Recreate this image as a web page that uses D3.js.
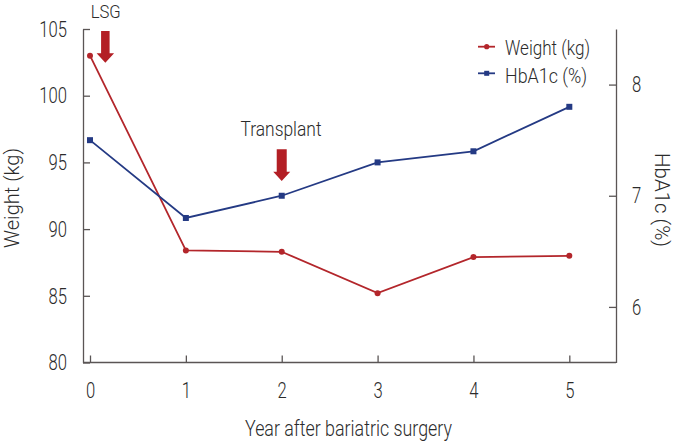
<!DOCTYPE html>
<html><head><meta charset="utf-8">
<script src="https://cdn.jsdelivr.net/npm/d3@7"></script>
<style>
body{margin:0;background:#fff;}
text{font-family:Roboto,sans-serif;font-weight:300;fill:#2b2b2b;}
</style></head>
<body><svg id="c" width="681" height="442"></svg>
<script>
const years = [0,1,2,3,4,5];
const weight = [103.0, 88.4, 88.3, 85.2, 87.9, 88.0];
const hba1c = [7.5, 6.8, 7.0, 7.3, 7.4, 7.8];
const weightTicks = [80,85,90,95,100,105];
const hbaTicks = [6,7,8];
const red = "#b3262b", blue = "#243a84", axc = "#5a5555";

const svg = d3.select("#c");
const L=83, R=616, T=29, B=362.5;
const x = d3.scaleLinear().domain([-0.073,5.487]).range([L,R]);
const yL = d3.scaleLinear().domain([80,105]).range([B,T]);
const yR = d3.scaleLinear().domain([5.5,8.5]).range([B,T]);

function condense(sel, s){
  sel.each(function(){
    const t = d3.select(this);
    const tx = +t.attr("x") || 0;
    t.attr("x",0).attr("transform",`translate(${tx},0) scale(${s},1)`);
  });
}
function style(g){
  g.selectAll("path,line").attr("stroke",axc).attr("stroke-width",1.3);
  g.selectAll("text").style("font-size","22.5px").attr("fill","#2b2b2b").call(condense,0.74);
}
svg.append("g").attr("transform",`translate(${L},0)`)
  .call(d3.axisLeft(yL).tickValues(weightTicks).tickFormat(d3.format("d")).tickSize(-7).tickSizeOuter(0).tickPadding(16))
  .call(style);
svg.append("g").attr("transform",`translate(${R},0)`)
  .call(d3.axisRight(yR).tickValues(hbaTicks).tickFormat(d3.format("d")).tickSize(-7).tickSizeOuter(0).tickPadding(16))
  .call(style);
const xa = svg.append("g").attr("transform",`translate(0,${B})`)
  .call(d3.axisBottom(x).tickValues(years).tickFormat(d3.format("d")).tickSize(-7).tickSizeOuter(0).tickPadding(19.5))
  .call(style);
xa.select(".domain").attr("d",`M${L},0H${R}`);

// lines
const lw = d3.line().x((d,i)=>x(years[i])).y(d=>yL(d));
const lh = d3.line().x((d,i)=>x(years[i])).y(d=>yR(d));
svg.append("path").attr("d",lw(weight)).attr("fill","none").attr("stroke",red).attr("stroke-width",1.8);
svg.append("path").attr("d",lh(hba1c)).attr("fill","none").attr("stroke",blue).attr("stroke-width",1.8);
svg.selectAll(".pw").data(weight).enter().append("circle")
  .attr("cx",(d,i)=>x(years[i])).attr("cy",d=>yL(d)).attr("r",3).attr("fill",red);
svg.selectAll(".ph").data(hba1c).enter().append("rect")
  .attr("x",(d,i)=>x(years[i])-3).attr("y",d=>yR(d)-3).attr("width",6).attr("height",6).attr("fill",blue);

// legend
const lg = svg.append("g");
lg.append("line").attr("x1",478).attr("x2",495).attr("y1",46.7).attr("y2",46.7).attr("stroke",red).attr("stroke-width",1.8);
lg.append("circle").attr("cx",486.7).attr("cy",46.7).attr("r",2.6).attr("fill",red);
lg.append("text").attr("x",505).attr("y",55).style("font-size","20px").attr("textLength",85).attr("lengthAdjust","spacingAndGlyphs").text("Weight (kg)");
lg.append("line").attr("x1",478).attr("x2",495).attr("y1",73.3).attr("y2",73.3).attr("stroke",blue).attr("stroke-width",1.8);
lg.append("rect").attr("x",484.2).attr("y",70.8).attr("width",5).attr("height",5).attr("fill",blue);
lg.append("text").attr("x",505).attr("y",82.5).style("font-size","20px").attr("textLength",82).attr("lengthAdjust","spacingAndGlyphs").text("HbA1c (%)");

// axis titles
svg.append("text").attr("transform","translate(18.5,198) rotate(-90)").attr("text-anchor","middle").style("font-size","20.5px")
  .attr("textLength",100).attr("lengthAdjust","spacingAndGlyphs").text("Weight (kg)");
svg.append("text").attr("transform","translate(655,200) rotate(90)").attr("text-anchor","middle").style("font-size","21px")
  .attr("textLength",94).attr("lengthAdjust","spacingAndGlyphs").text("HbA1c (%)");
svg.append("text").attr("x",348.5).attr("y",436).attr("text-anchor","middle").style("font-size","21.5px")
  .attr("textLength",207).attr("lengthAdjust","spacingAndGlyphs").text("Year after bariatric surgery");

// annotations
function arrow(cx, top, sw, hw, shaftH, headH){
  const p = d3.path();
  p.moveTo(cx-sw/2,top); p.lineTo(cx+sw/2,top); p.lineTo(cx+sw/2,top+shaftH);
  p.lineTo(cx+hw/2,top+shaftH); p.lineTo(cx,top+shaftH+headH); p.lineTo(cx-hw/2,top+shaftH); p.lineTo(cx-sw/2,top+shaftH); p.closePath();
  svg.append("path").attr("d",p.toString()).attr("fill","#b31f25");
}
arrow(x(0.16), 31, 8.5, 17.5, 22.3, 9.4);
svg.append("text").attr("x",105.7).attr("y",17.5).attr("text-anchor","middle").style("font-size","19px")
  .attr("textLength",30).attr("lengthAdjust","spacingAndGlyphs").text("LSG");
arrow(x(2), 149.3, 10, 17, 22.4, 9.3);
svg.append("text").attr("x",281).attr("y",136).attr("text-anchor","middle").style("font-size","21px")
  .attr("textLength",81).attr("lengthAdjust","spacingAndGlyphs").text("Transplant");
</script></body></html>
